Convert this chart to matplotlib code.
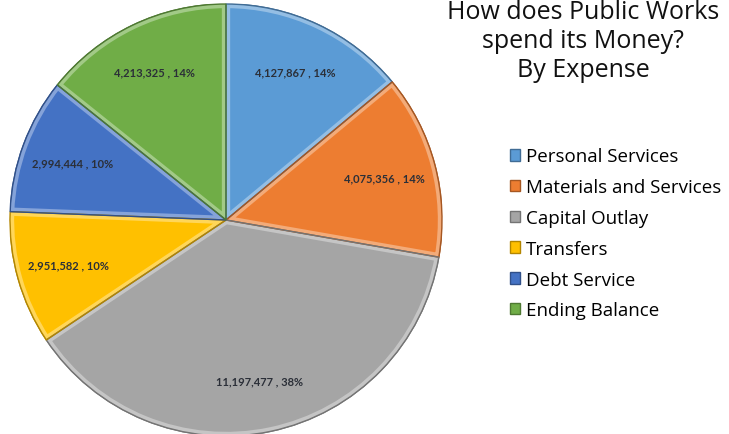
import numpy as np
import matplotlib.pyplot as plt
from matplotlib.colors import to_rgb
from matplotlib.patches import Wedge

categories = ["Personal Services", "Materials and Services", "Capital Outlay",
              "Transfers", "Debt Service", "Ending Balance"]
amounts = [4127867, 4075356, 11197477, 2951582, 2994444, 4213325]
colors = ["#5B9BD5", "#ED7D31", "#A5A5A5", "#FFC000", "#4472C4", "#70AD47"]

total = sum(amounts)


def fmt(pct):
    val = int(round(pct * total / 100.0))
    return "{:,} , {:.0f}%".format(val, pct)


def shade(c, k):
    r, g, b = to_rgb(c)
    if k > 1:
        return tuple(x + (1 - x) * (k - 1) for x in (r, g, b))
    return (r * k, g * k, b * k)


fig = plt.figure(figsize=(7.29, 4.35), dpi=100)
ax = fig.add_axes([10 / 729, -2 / 435, 432 / 729, 432 / 435])

wedges, texts, autotexts = ax.pie(
    amounts, colors=colors, startangle=90, counterclock=False,
    autopct=fmt, pctdistance=0.76,
    wedgeprops=dict(edgecolor="none"),
    textprops=dict(fontsize=8, color="#2b2f38", family="Lato",
                   fontweight="bold", zorder=5))

# bevel: light band just inside each slice, dark outline on top
for w, c in zip(wedges, colors):
    hi = Wedge(w.center, w.r, w.theta1, w.theta2, facecolor="none",
               edgecolor=shade(c, 1.35), linewidth=6, zorder=2)
    ax.add_patch(hi)
    hi.set_clip_path(w)
    w.set_edgecolor(shade(c, 0.7))
    w.set_linewidth(1.0)
    w.set_zorder(1)
    rim = Wedge(w.center, w.r, w.theta1, w.theta2, facecolor="none",
                edgecolor=shade(c, 0.7), linewidth=1.0, zorder=3)
    ax.add_patch(rim)

ax.set_xlim(-1, 1)
ax.set_ylim(-1, 1)
ax.set_aspect("equal")
ax.axis("off")

fig.text(583 / 729, 1.0, "How does Public Works\nspend its Money?\nBy Expense",
         ha="center", va="top", fontsize=18, family="Open Sans",
         linespacing=1.2, color="#111111")

fig.legend(wedges, categories, loc="upper left",
           bbox_to_anchor=(502 / 729, 1 - 141 / 435),
           frameon=False, prop=dict(family="Open Sans", size=13.5),
           handlelength=0.55, handleheight=0.55, handletextpad=0.35,
           labelspacing=0.68, borderaxespad=0)

plt.savefig("out.png", dpi=100)
